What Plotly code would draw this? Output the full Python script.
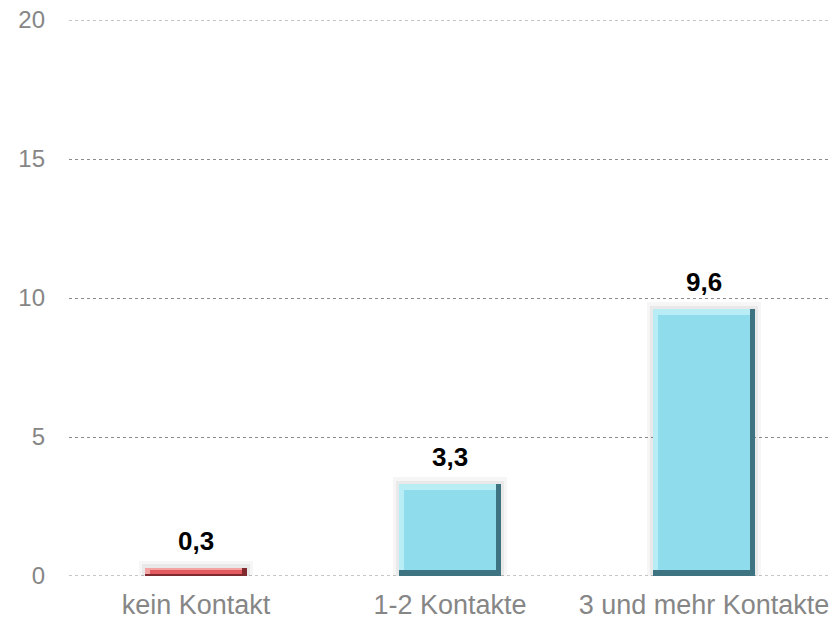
import plotly.graph_objects as go

categories = ["kein Kontakt", "1-2 Kontakte", "3 und mehr Kontakte"]
values = [0.3, 3.3, 9.6]
value_labels = ["0,3", "3,3", "9,6"]
main_colors = ["#E35B5E", "#8EDCEC", "#8EDCEC"]
light_edge_colors = ["#F4A3A3", "#B9EDF6", "#B9EDF6"]
dark_edge_colors = ["#7E2A2E", "#3E7482", "#3E7482"]
y_ticks = [0, 5, 10, 15, 20]

BAR_W = 0.4
BEVEL_X = 0.02
bevel_y = [min(0.2, v * 0.25) for v in values]

fig = go.Figure()
# soft shadow (two faint layers)
for extra_w, extra_h, alpha in [(0.05, 0.25, 0.035), (0.025, 0.12, 0.05)]:
    fig.add_trace(go.Bar(
        x=categories, y=[v + extra_h for v in values], width=BAR_W + extra_w,
        marker=dict(color=f"rgba(0,0,0,{alpha})", line=dict(width=0)),
        hoverinfo="skip",
    ))
# dark edge (right/bottom)
fig.add_trace(go.Bar(
    x=categories, y=values, width=BAR_W,
    marker=dict(color=dark_edge_colors, line=dict(width=0)),
    hoverinfo="skip",
))
# light edge (top/left)
fig.add_trace(go.Bar(
    x=categories, y=[v - b for v, b in zip(values, bevel_y)], base=bevel_y,
    width=BAR_W - BEVEL_X, offset=-BAR_W / 2,
    marker=dict(color=light_edge_colors, line=dict(width=0)),
    hoverinfo="skip",
))
# face
fig.add_trace(go.Bar(
    x=categories, y=[v - 2 * b for v, b in zip(values, bevel_y)], base=bevel_y,
    width=BAR_W - 2 * BEVEL_X, offset=-BAR_W / 2 + BEVEL_X,
    marker=dict(color=main_colors, line=dict(width=0)),
    hoverinfo="skip",
))

for c, v, t in zip(categories, values, value_labels):
    fig.add_annotation(x=c, y=v, text=t, showarrow=False, yanchor="bottom",
                       yshift=10, font=dict(family="Liberation Sans, Arial", size=26,
                                            color="#000000", weight="bold"))

fig.update_layout(
    width=839, height=622,
    margin=dict(l=69, r=8, t=20, b=46),
    paper_bgcolor="white", plot_bgcolor="white",
    showlegend=False, barmode="overlay", bargap=0,
    font=dict(family="Liberation Sans, Arial", size=24, color="#868686"),
)
fig.update_yaxes(range=[0, 20], tickvals=y_ticks, showgrid=True, gridcolor="#8C8C8C",
                 griddash="dot", gridwidth=1, zeroline=False, showline=False,
                 automargin=False,
                 ticks="", ticklabelstandoff=23, tickfont=dict(size=24, color="#868686"))
fig.update_xaxes(showline=False, ticks="", ticklabelstandoff=10, automargin=False,
                 tickfont=dict(size=27, color="#868686"))
for yv in (y_ticks[0], y_ticks[-1]):
    fig.add_hline(y=yv, line=dict(color="#8C8C8C", width=1, dash="dot"), layer="below")
fig.write_html("out.html", config={"displayModeBar": False})

with open("out.html", "r", encoding="utf-8") as f:
    html = f.read()
html = html.replace("<head>", "<head><style>html,body{margin:0;padding:0;overflow:hidden;}</style>", 1)
with open("out.html", "w", encoding="utf-8") as f:
    f.write(html)
